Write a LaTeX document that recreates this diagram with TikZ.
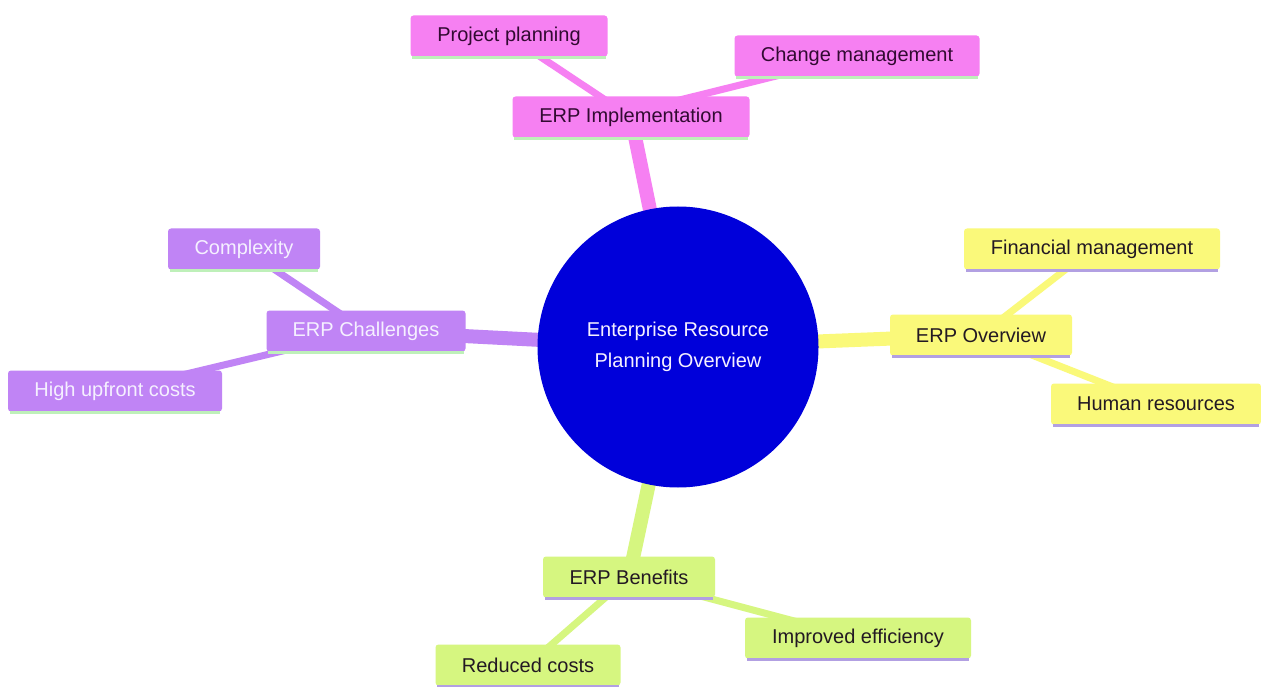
\documentclass[tikz,border=0pt]{standalone}
\usepackage{fontspec}
\setmainfont{Liberation Sans}
\pgfdeclarelayer{paper}
\pgfdeclarelayer{background}
\pgfsetlayers{paper,background,main}
\definecolor{cblue}{RGB}{0,0,218}
\definecolor{cpink}{RGB}{246,128,242}
\definecolor{cyel}{RGB}{250,249,122}
\definecolor{cgreen}{RGB}{214,246,128}
\definecolor{cpurp}{RGB}{192,132,245}
\definecolor{lgreen}{RGB}{190,240,185}
\definecolor{lpurp}{RGB}{178,160,226}
\definecolor{tdark}{RGB}{35,25,35}
\definecolor{tpink}{RGB}{50,10,50}
\definecolor{tlight}{RGB}{245,240,255}
\tikzset{
  box/.style={rectangle, rounded corners=3pt, inner sep=0pt, minimum height=41pt, font=\fontsize{20}{24}\selectfont},
  pinkbox/.style={box, fill=cpink, text=tpink},
  yelbox/.style={box, fill=cyel, text=tdark},
  greenbox/.style={box, fill=cgreen, text=tdark},
  purpbox/.style={box, fill=cpurp, text=tlight},
  trunk/.style={line width=14pt},
  twig/.style={line width=7pt},
  underline/.style={line width=3pt},
}
\begin{document}
\begin{tikzpicture}[x=1pt,y=-1pt]
\begin{pgfonlayer}{paper}
\fill[white] (0,0) rectangle (1261,687);
\end{pgfonlayer}
\useasboundingbox (0,0) rectangle (1261,687);
% center
\node[circle, fill=cblue, minimum size=281pt, inner sep=0pt, text=tlight, align=center, font=\fontsize{20}{31}\selectfont] (c) at (678,347) {Enterprise Resource\\Planning Overview};
% implementation
\node[pinkbox, minimum width=237pt] (impl) at (631,117) {ERP Implementation};
\node[pinkbox, minimum width=197pt] (pp) at (509,36) {Project planning};
\node[pinkbox, minimum width=245pt] (cm) at (857,56) {Change management};
% overview
\node[yelbox, minimum width=182pt] (ov) at (981,335) {ERP Overview};
\node[yelbox, minimum width=256pt] (fm) at (1092,249) {Financial management};
\node[yelbox, minimum width=210pt] (hr) at (1156,404) {Human resources};
% benefits
\node[greenbox, minimum width=172pt] (be) at (629,577) {ERP Benefits};
\node[greenbox, minimum width=226pt] (ie) at (858,638) {Improved efficiency};
\node[greenbox, minimum width=185pt] (rc) at (528,665) {Reduced costs};
% challenges
\node[purpbox, minimum width=199pt] (ch) at (366,331) {ERP Challenges};
\node[purpbox, minimum width=152pt] (cx) at (244,249) {Complexity};
\node[purpbox, minimum width=214pt] (hu) at (115,391) {High upfront costs};
\begin{pgfonlayer}{background}
\draw[trunk, cpink] (c.center) -- (impl.center);
\draw[twig, cpink] (impl.center) -- (pp.center);
\draw[twig, cpink] ([xshift=-20pt]impl.center) -- (cm.center);
\draw[trunk, cyel] (c.center) -- (ov.center);
\draw[twig, cyel] (ov.center) -- (fm.center);
\draw[twig, cyel] (ov.center) -- (hr.center);
\draw[trunk, cgreen] (c.center) -- (be.center);
\draw[twig, cgreen] (be.center) -- (ie.center);
\draw[twig, cgreen] (be.center) -- (rc.center);
\draw[trunk, cpurp] (c.center) -- (ch.center);
\draw[twig, cpurp] (ch.center) -- (cx.center);
\draw[twig, cpurp] (ch.center) -- (hu.center);
\end{pgfonlayer}
\foreach \n in {impl,pp,cm,ch,cx,hu}
  \draw[underline, lgreen] ([xshift=2pt,yshift=-1pt]\n.south west) -- ([xshift=-2pt,yshift=-1pt]\n.south east);
\foreach \n in {ov,fm,hr,be,ie,rc}
  \draw[underline, lpurp] ([xshift=2pt,yshift=-1pt]\n.south west) -- ([xshift=-2pt,yshift=-1pt]\n.south east);
\end{tikzpicture}
\end{document}
